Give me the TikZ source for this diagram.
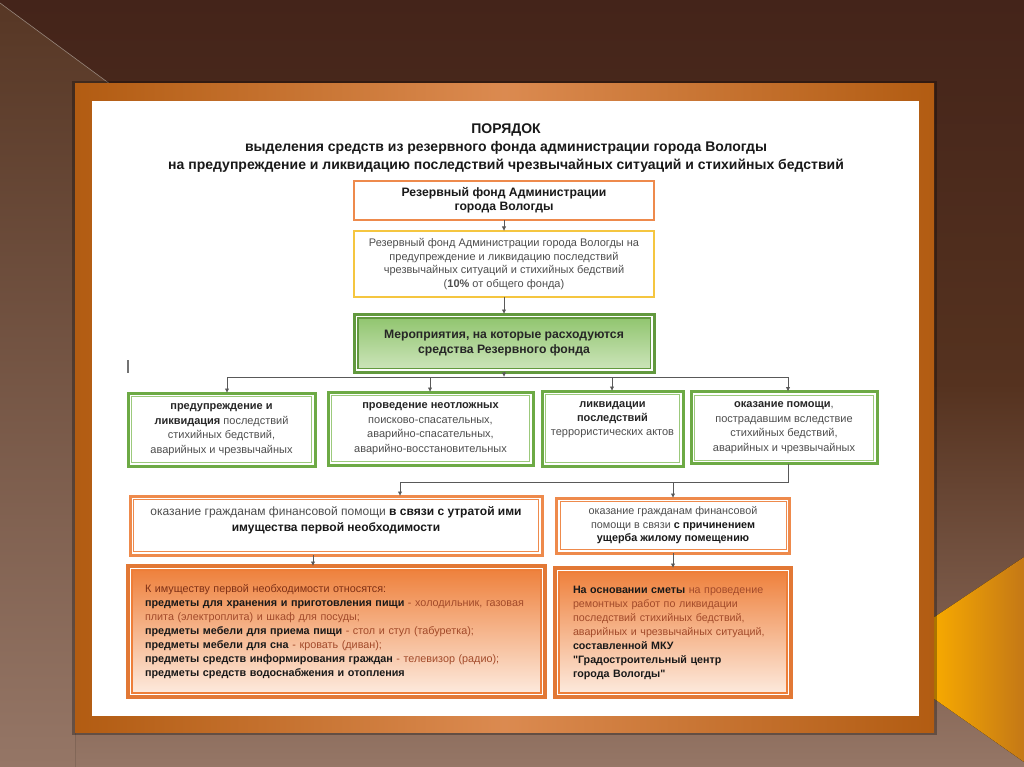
\documentclass[tikz,border=0pt]{standalone}
\usepackage{fontspec}
\setmainfont{Liberation Sans}[Ligatures=TeXOff]
\usetikzlibrary{arrows.meta,calc}
\definecolor{bgtop}{HTML}{44241A}
\definecolor{bgmid}{HTML}{55321F}
\definecolor{bgbot}{HTML}{957666}
\definecolor{lefttop}{HTML}{573725}
\definecolor{framein}{HTML}{DB8A50}
\definecolor{frameout}{HTML}{B25C12}
\definecolor{goldL}{HTML}{F8AA00}
\definecolor{goldR}{HTML}{C47816}
\definecolor{boxorange}{HTML}{EE8A4C}
\definecolor{boxyellow}{HTML}{F5C640}
\definecolor{boxgreen}{HTML}{6DAA45}
\definecolor{greenlight}{HTML}{9CC97C}
\definecolor{g3top}{HTML}{8DC36A}
\definecolor{g3bot}{HTML}{CFE6BE}
\definecolor{ortop}{HTML}{EE7E38}
\definecolor{orbot}{HTML}{FDEDE2}
\definecolor{txtgray}{HTML}{4E4E4E}
\definecolor{txtbrown}{HTML}{A24A2A}
\definecolor{txtred}{HTML}{7E3016}
\begin{document}
\begin{tikzpicture}[x=1pt,y=-1pt,
  conn/.style={draw=black!65, line width=0.8pt},
  arr/.style={conn, -{Latex[length=4.5pt,width=4.5pt]}},
  base/.style={rectangle, outer sep=0pt, inner sep=0pt, align=center, text=txtgray},
  obox/.style={base, draw=boxorange, line width=2.2pt, fill=white},
  ybox/.style={base, draw=boxyellow, line width=2.2pt, fill=white},
  gbox/.style={base, draw=boxgreen, line width=3pt, fill=white,
    path picture={\draw[greenlight, line width=1pt]
      ([shift={(3.5pt,-3.5pt)}]path picture bounding box.north west) rectangle
      ([shift={(-3.5pt,3.5pt)}]path picture bounding box.south east);}},
  g3box/.style={base, draw=boxgreen!90!black, line width=3pt, fill=white, text=black!85,
    path picture={\draw[boxgreen!90!black, line width=1.4pt, top color=g3top, bottom color=g3bot]
      ([shift={(3.8pt,-3.8pt)}]path picture bounding box.north west) rectangle
      ([shift={(-3.8pt,3.8pt)}]path picture bounding box.south east);}},
  o2box/.style={base, draw=boxorange, line width=3pt, fill=white,
    path picture={\draw[boxorange, line width=1pt]
      ([shift={(3.5pt,-3.5pt)}]path picture bounding box.north west) rectangle
      ([shift={(-3.5pt,3.5pt)}]path picture bounding box.south east);}},
  o3box/.style={base, draw=ortop!95!black, line width=3.5pt, fill=white, align=left, text=txtbrown,
    path picture={\draw[ortop, line width=1.5pt, top color=ortop, bottom color=orbot]
      ([shift={(4pt,-4pt)}]path picture bounding box.north west) rectangle
      ([shift={(-4pt,4pt)}]path picture bounding box.south east);}},
  ttl/.style={align=center, text=black!90, font=\bfseries\fontsize{14}{18}\selectfont}
]
\useasboundingbox (0,0) rectangle (1024,767);
% background
\fill[top color=bgtop, bottom color=bgbot, middle color=bgmid] (0,0) rectangle (1024,767);
\fill[top color=lefttop, bottom color=bgbot] (0,3) -- (110,84) -- (75,84) -- (75,767) -- (0,767) -- cycle;
\draw[white!40!lefttop, line width=0.6pt] (0,3) -- (110,84);
\fill[left color=goldL, right color=goldR] (933,618) -- (1024,557) -- (1024,762) -- (933,698) -- cycle;
% frame
\fill[black, opacity=0.3] (72,81) rectangle (937,735);
\fill[left color=frameout, right color=frameout, middle color=framein] (75,84) rectangle (934,732);
\fill[white] (92,101) rectangle (919,716);

% title
\node[ttl] (title) at (506,148) {ПОРЯДОК\\выделения средств из резервного фонда администрации города Вологды\\на предупреждение и ликвидацию последствий чрезвычайных ситуаций и стихийных бедствий};

% boxes
\node[obox, minimum width=300pt, minimum height=39pt, text=black!90, font=\bfseries\fontsize{12.2}{14}\selectfont] (b1) at (504,200.5)
  {Резервный фонд Администрации\\города Вологды};
\node[ybox, minimum width=300pt, minimum height=66pt, font=\fontsize{11}{13.4}\selectfont] (b2) at (504,264)
  {Резервный фонд Администрации города Вологды на\\предупреждение и ликвидацию последствий\\чрезвычайных ситуаций и стихийных бедствий\\(\textbf{10\%} от общего фонда)};
\node[g3box, minimum width=300pt, minimum height=58pt, font=\bfseries\fontsize{12.2}{14.5}\selectfont] (b3) at (504,343)
  {Мероприятия, на которые расходуются\\средства Резервного фонда};

\node[gbox, minimum width=187pt, minimum height=73pt, font=\fontsize{11}{14.5}\selectfont] (b4a) at (221.5,429.5)
  {\textbf{\color{black!85}предупреждение и}\\\textbf{\color{black!85}ликвидация} последствий\\стихийных бедствий,\\аварийных и чрезвычайных};
\node[gbox, minimum width=205pt, minimum height=73pt, font=\fontsize{11}{14.5}\selectfont] (b4b) at (430.5,428.5)
  {\textbf{\color{black!85}проведение неотложных}\\поисково-спасательных,\\аварийно-спасательных,\\аварийно-восстановительных};
\node[gbox, minimum width=141pt, minimum height=75pt, font=\fontsize{11}{14}\selectfont] (b4c) at (612.5,428.5)
  {\textbf{\color{black!85}ликвидации}\\\textbf{\color{black!85}последствий}\\террористических актов\\[1pt]\strut};
\node[gbox, minimum width=186pt, minimum height=72pt, font=\fontsize{11}{14.5}\selectfont] (b4d) at (784,427.5)
  {\textbf{\color{black!85}оказание помощи},\\пострадавшим вследствие\\стихийных бедствий,\\аварийных и чрезвычайных};

\node[o2box, minimum width=412pt, minimum height=59pt, font=\fontsize{12}{15.5}\selectfont] (b5e) at (336,525.5)
  {оказание гражданам финансовой помощи \textbf{\color{black!90}в связи с утратой ими}\\\textbf{\color{black!90}имущества первой необходимости}\\[-7pt]\strut};
\node[o2box, minimum width=233pt, minimum height=55pt, font=\fontsize{10.8}{13.5}\selectfont] (b5f) at (673,525.5)
  {оказание гражданам финансовой\\помощи в связи \textbf{\color{black!90}с причинением}\\\textbf{\color{black!90}ущерба жилому помещению}};

\node[o3box, minimum width=417pt, minimum height=131pt, text width=383pt, font=\fontsize{10.8}{14}\selectfont] (b6g) at (336.5,631.5)
  {\mbox{\color{txtred}К имуществу первой необходимости относятся:}\\
   \mbox{\textbf{\color{black!90}предметы для хранения и приготовления пищи} - холодильник, газовая}\\
   \mbox{плита (электроплита) и шкаф для посуды;}\\
   \mbox{\textbf{\color{black!90}предметы мебели для приема пищи} - стол и стул (табуретка);}\\
   \mbox{\textbf{\color{black!90}предметы мебели для сна} - кровать (диван);}\\
   \mbox{\textbf{\color{black!90}предметы средств информирования граждан} - телевизор (радио);}\\
   \mbox{\textbf{\color{black!90}предметы средств водоснабжения и отопления}}};
\node[o3box, minimum width=236pt, minimum height=129pt, text width=200pt, font=\fontsize{10.7}{14}\selectfont] (b6h) at (673,632.5)
  {\mbox{\textbf{\color{black!90}На основании сметы} на проведение}\\
   \mbox{ремонтных работ по ликвидации}\\
   \mbox{последствий стихийных бедствий,}\\
   \mbox{аварийных и чрезвычайных ситуаций,}\\
   \mbox{\textbf{\color{black!90}составленной МКУ}}\\
   \mbox{\textbf{\color{black!90}"Градостроительный центр}}\\
   \mbox{\textbf{\color{black!90}города Вологды"}}};

% stray mark
\draw[black!55, line width=1.6pt] (128,360) -- (128,373);

% connectors
\coordinate (h1) at (504,377);
\coordinate (hl) at (227,377);
\coordinate (hr) at (788,377);
\coordinate (h2) at (430,377);
\coordinate (h3) at (612,377);
\coordinate (j1) at (788,482);
\coordinate (jl) at (400,482);
\coordinate (jr) at (673,482);

\draw[arr] (b1.south) -- (b2.north);
\draw[arr] (b2.south) -- (b3.north);
\draw[arr] (b3.south) -- (h1);
\draw[conn] (hl) -- (hr);
\draw[arr] (hl) -- (hl |- b4a.north);
\draw[arr] (h2) -- (h2 |- b4b.north);
\draw[arr] (h3) -- (h3 |- b4c.north);
\draw[arr] (hr) -- (hr |- b4d.north);
\draw[conn] (j1 |- b4d.south) -- (j1) -- (jl);
\draw[arr] (jl) -- (jl |- b5e.north);
\draw[arr] (jr) -- (jr |- b5f.north);
\coordinate (k1) at (313,0);
\draw[arr] (k1 |- b5e.south) -- (k1 |- b6g.north);
\draw[arr] (b5f.south) -- (b6h.north);
\end{tikzpicture}
\end{document}
